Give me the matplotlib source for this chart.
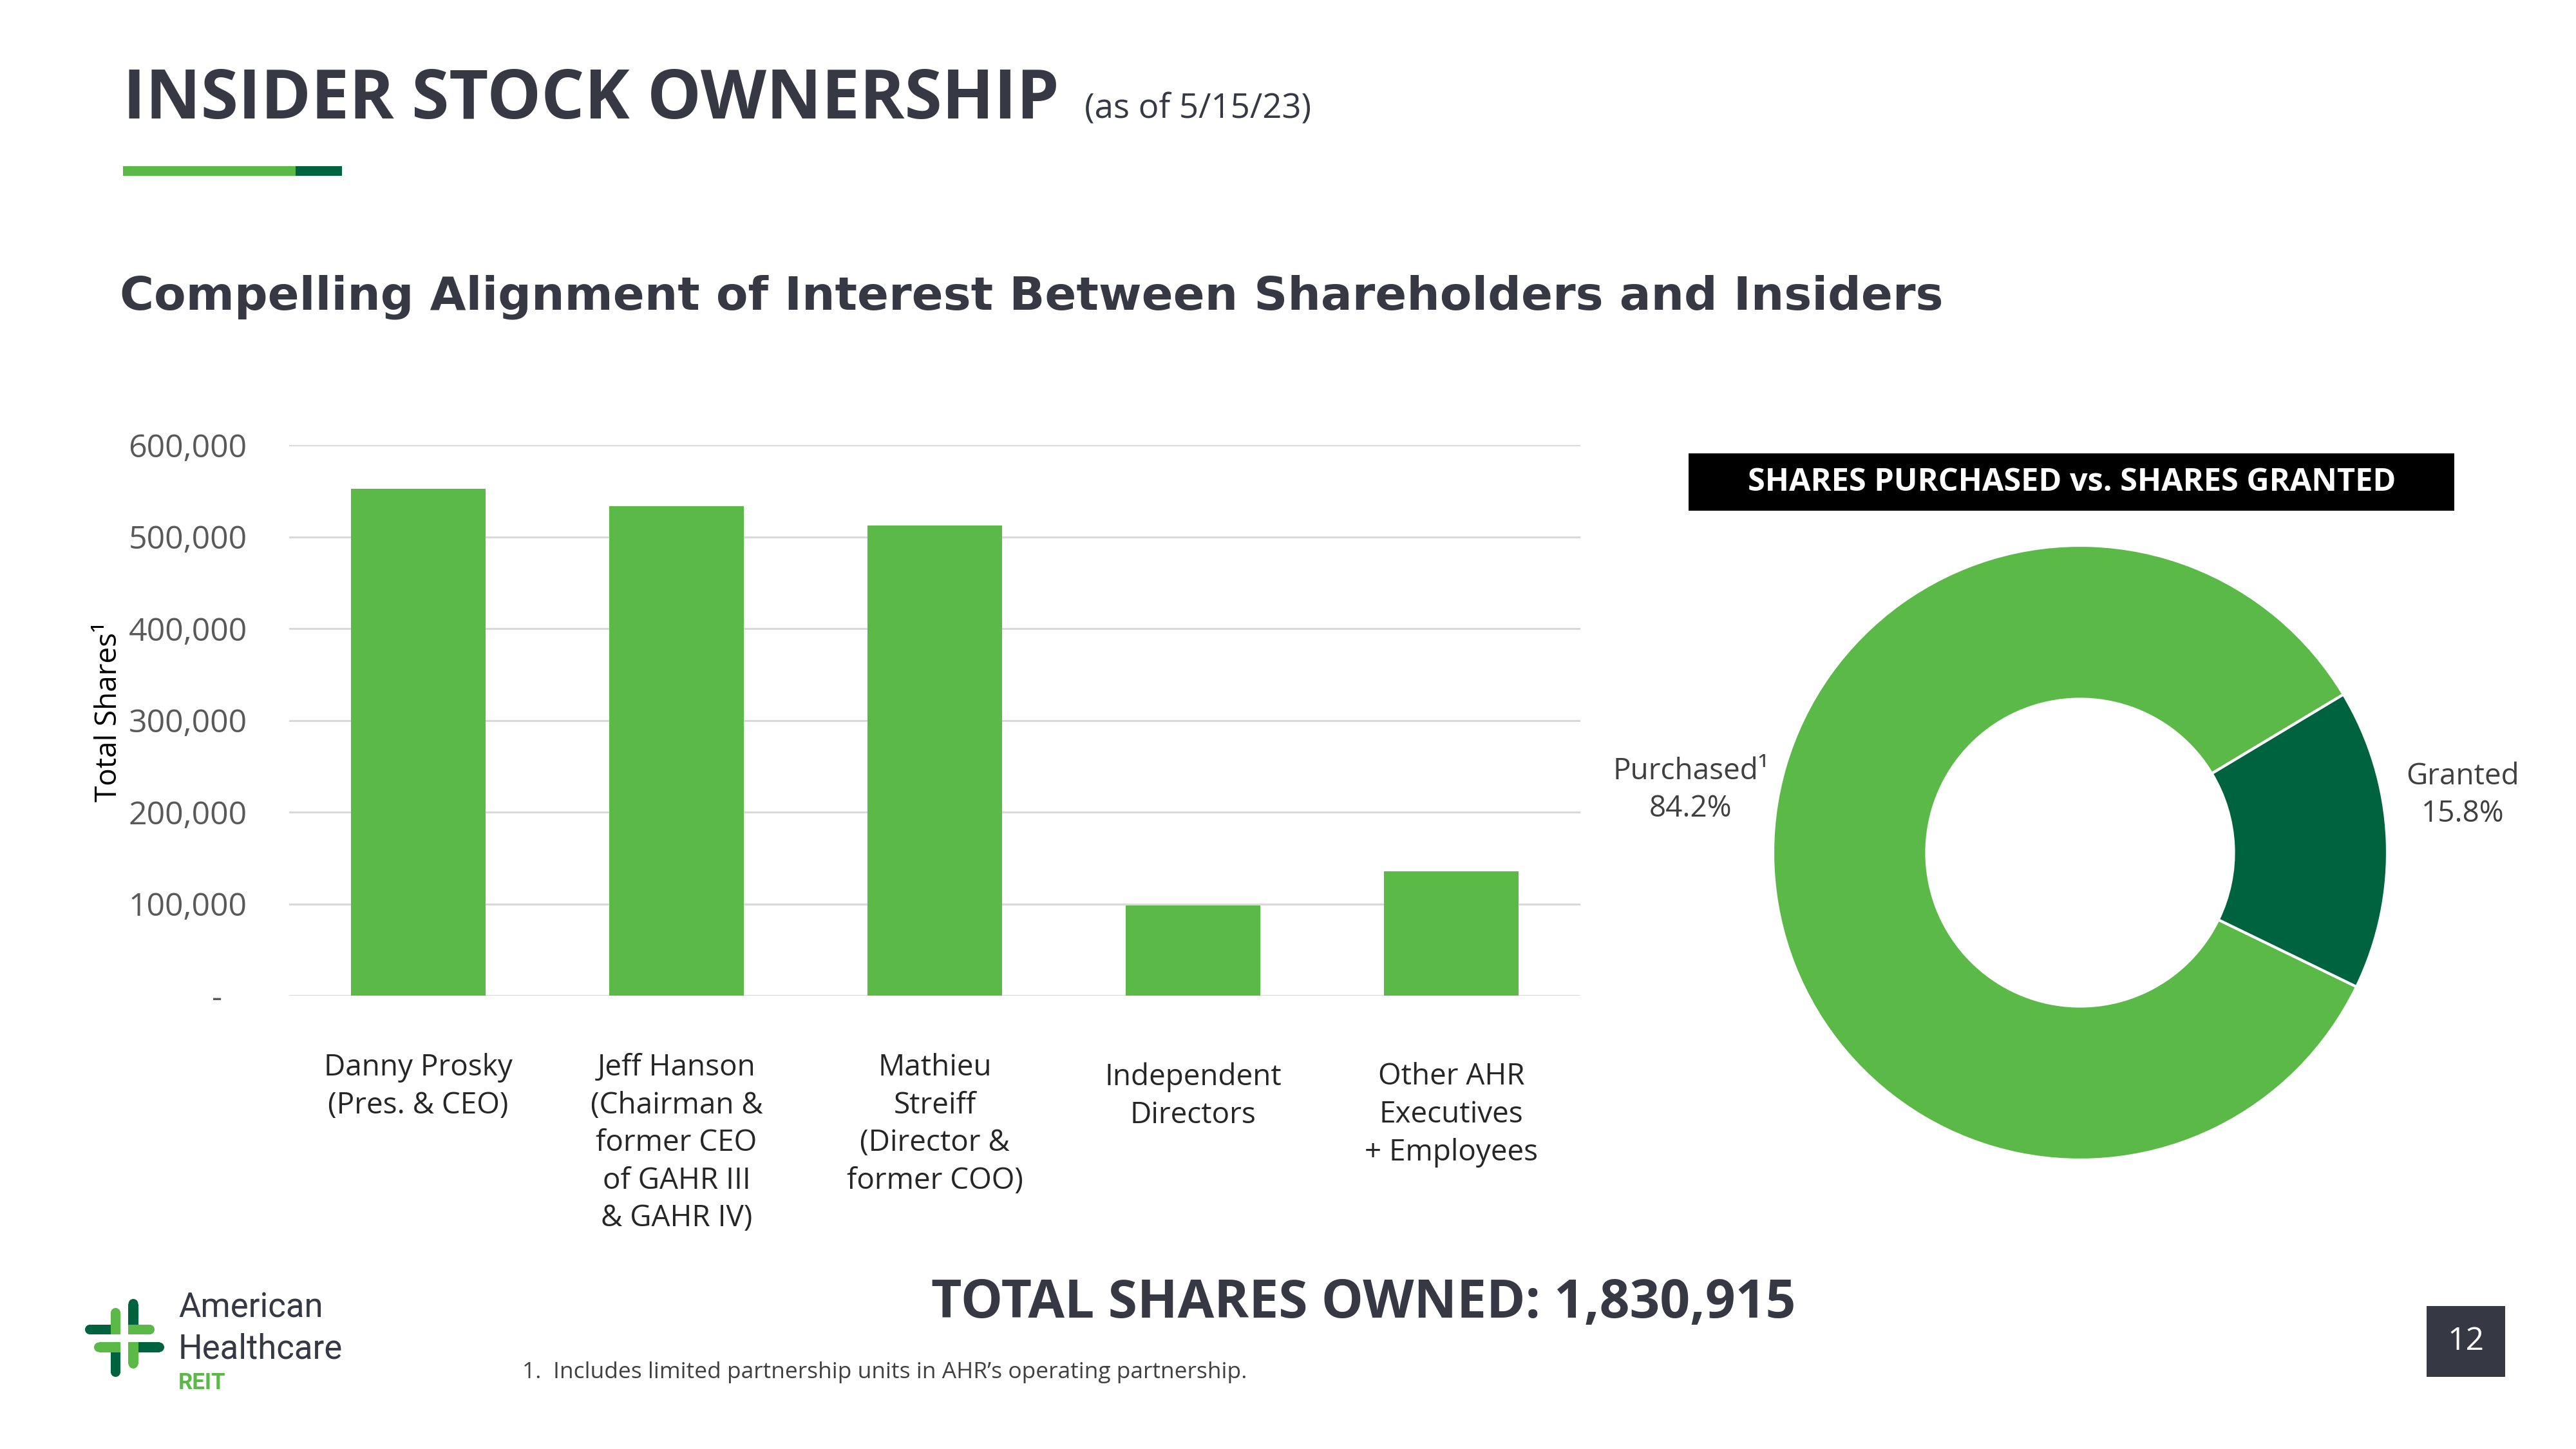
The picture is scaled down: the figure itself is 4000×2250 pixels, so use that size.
import matplotlib
matplotlib.use("Agg")
import matplotlib.pyplot as plt
import matplotlib.ticker as ticker
from matplotlib.patches import Rectangle, Ellipse

# Daten
categories = [
    "Danny Prosky\n(Pres. & CEO)",
    "Jeff Hanson\n(Chairman &\nformer CEO\nof GAHR III\n& GAHR IV)",
    "Mathieu\nStreiff\n(Director &\nformer COO)",
    "Independent\nDirectors",
    "Other AHR\nExecutives\n+ Employees",
]
shares = [552000, 533000, 512000, 98500, 135415]
yticks = [0, 100000, 200000, 300000, 400000, 500000, 600000]

pie_labels = ["Purchased\u00b9", "Granted"]
pie_values = [84.2, 15.8]

total_shares = 1830915

LIGHT = "#5AB947"
DARK = "#00633F"
TEXT = "#363843"
GREY = "#595959"

plt.rcParams["font.family"] = ["Open Sans", "DejaVu Sans"]

W, H = 4000, 2250
fig = plt.figure(figsize=(40, 22.5), dpi=100)
fig.patch.set_facecolor("white")


def fx(x):
    return x / W


def fy(y):
    return 1 - y / H


def box(x0, y0, x1, y1, color):
    # Rechteck in Pixelkoordinaten (y von oben)
    fig.add_artist(Rectangle((fx(x0), fy(y1)), fx(x1) - fx(x0), fy(y0) - fy(y1),
                             transform=fig.transFigure, color=color, lw=0))


def dot(cx, cy, r, color):
    fig.add_artist(Ellipse((fx(cx), fy(cy)), 2 * r / W, 2 * r / H,
                           transform=fig.transFigure, color=color, lw=0))


def logo_bar(x0, y0, x1, y1, color, rnd):
    r = 7.5
    if rnd == "left":
        box(x0 + r, y0, x1, y1, color)
        dot(x0 + r, (y0 + y1) / 2, r, color)
    elif rnd == "right":
        box(x0, y0, x1 - r, y1, color)
        dot(x1 - r, (y0 + y1) / 2, r, color)
    elif rnd == "top":
        box(x0, y0 + r, x1, y1, color)
        dot((x0 + x1) / 2, y0 + r, r, color)
    else:
        box(x0, y0, x1, y1 - r, color)
        dot((x0 + x1) / 2, y1 - r, r, color)


# Titel
fig.text(fx(191), fy(184), "INSIDER STOCK OWNERSHIP", fontsize=76, fontweight="bold",
         color=TEXT, va="baseline", ha="left")
fig.text(fx(1684), fy(184), "(as of 5/15/23)", fontsize=38, color=TEXT,
         va="baseline", ha="left")
box(191, 258, 459, 273, LIGHT)
box(459, 258, 531, 273, DARK)
fig.text(fx(186), fy(480), "Compelling Alignment of Interest Between Shareholders and Insiders",
         fontsize=52, fontweight="bold", color=TEXT, va="baseline", ha="left",
         family="DejaVu Sans")

# Balkendiagramm
ax = fig.add_axes([fx(449), fy(1546), fx(2454) - fx(449), fy(691) - fy(1546)])
x = list(range(len(categories)))
ax.bar(x, shares, width=0.52, color=LIGHT, zorder=3)
ax.set_xlim(-0.5, len(categories) - 0.5)
ax.set_ylim(0, 600000)
ax.set_yticks(yticks)
ax.yaxis.set_major_formatter(
    ticker.FuncFormatter(lambda v, pos: "-   " if v == 0 else "{:,.0f}".format(v)))
ax.tick_params(axis="y", length=0, pad=47, labelsize=36, labelcolor=GREY)
ax.set_xticks([])
ax.grid(axis="y", color="#D9D9D9", lw=2.2, zorder=0)
for s in ax.spines.values():
    s.set_visible(False)
ax.set_ylabel("Total Shares\u00b9", fontsize=33, color="black")
ax.yaxis.set_label_coords(-0.128, 0.515)

label_offsets = [-0.104, -0.104, -0.104, -0.121, -0.121]
for i, (lab, off) in enumerate(zip(categories, label_offsets)):
    ax.text(i, off, lab, transform=ax.get_xaxis_transform(), ha="center", va="top",
            fontsize=33, color="#262626", linespacing=1.36, multialignment="center")

# Donut
pax = fig.add_axes([fx(3230 - 500), fy(1324 + 500), fx(1000), 1000 / H])
pax.pie(pie_values, colors=[LIGHT, DARK], startangle=31, counterclock=True,
        radius=0.954, wedgeprops=dict(width=0.477, edgecolor="white", linewidth=3))
pax.set_xlim(-1, 1)
pax.set_ylim(-1, 1)
pax.set_aspect("equal")
pax.text(-1.21, 0.194, "{}\n{:.1f}%".format(pie_labels[0], pie_values[0]), ha="center",
         va="center", fontsize=33, color="#404040", linespacing=1.35, clip_on=False)
pax.text(1.188, 0.178, "{}\n{:.1f}%".format(pie_labels[1], pie_values[1]), ha="center",
         va="center", fontsize=33, color="#404040", linespacing=1.35, clip_on=False)

box(2622, 704, 3811, 793, "black")
fig.text(fx(3217), fy(750), "SHARES PURCHASED vs. SHARES GRANTED", fontsize=35,
         fontweight="bold", color="white", ha="center", va="center")

# Summe und Fussnote
fig.text(fx(2117), fy(2046), "TOTAL SHARES OWNED: {:,}".format(total_shares), fontsize=59,
         fontweight="bold", color=TEXT, ha="center", va="baseline")
fig.text(fx(811), fy(2140), "1.  Includes limited partnership units in AHR\u2019s operating partnership.",
         fontsize=25.5, color="#404040", ha="left", va="baseline")

# Seitenzahl
box(3768, 2028, 3890, 2138, TEXT)
fig.text(fx(3829), fy(2083), "12", fontsize=36, color="white", ha="center", va="center")

# Logo
logo_bar(132, 2057, 172, 2072, DARK, "left")
logo_bar(172, 2031, 187, 2072, LIGHT, "top")
logo_bar(199, 2017, 215, 2057, DARK, "top")
logo_bar(199, 2057, 240, 2072, LIGHT, "right")
logo_bar(146, 2084, 187, 2100, LIGHT, "left")
logo_bar(172, 2100, 187, 2138, DARK, "bottom")
logo_bar(199, 2084, 215, 2125, LIGHT, "bottom")
logo_bar(215, 2084, 255, 2100, DARK, "right")
fig.text(fx(277), fy(2045), "American", fontsize=38, color=TEXT, family="Roboto",
         va="baseline", ha="left")
fig.text(fx(277), fy(2110), "Healthcare", fontsize=38, color=TEXT, family="Roboto",
         va="baseline", ha="left")
fig.text(fx(277), fy(2157), "REIT", fontsize=25, color=LIGHT, family="Roboto",
         fontweight="bold", va="baseline", ha="left")

fig.savefig("out.png", dpi=100, facecolor="white")
